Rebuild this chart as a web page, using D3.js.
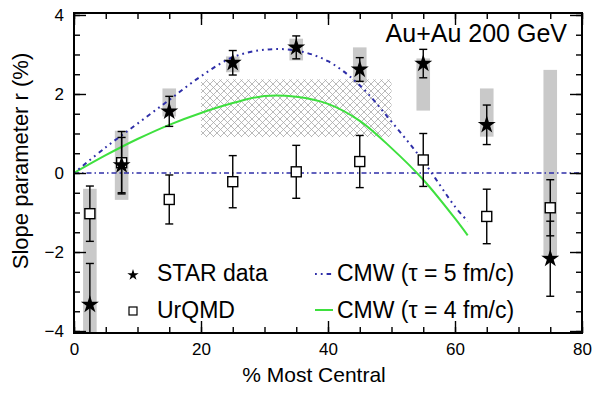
<!DOCTYPE html>
<html>
<head>
<meta charset="utf-8">
<script src="https://cdn.jsdelivr.net/npm/d3@7"></script>
<style>
  body { margin: 0; background: #fff; }
  text { font-family: "Liberation Sans", Arial, Helvetica, sans-serif; fill: #000; }
</style>
</head>
<body>
<script>
const WIDTH = 600
const HEIGHT = 396

// centralité (%) des points
const centrality = [2.5, 7.5, 15, 25, 35, 45, 55, 65, 75]

// STAR data : valeur, erreur stat, boite systematique [bas, haut]
const starValues = [-3.33, 0.2, 1.56, 2.79, 3.18, 2.62, 2.77, 1.22, -2.17]
const starErrors = [1.04, 0.7, 0.38, 0.31, 0.29, 0.3, 0.36, 0.5, 0.95]
const sysLow = [-4.3, -0.68, 1.43, 2.55, 2.85, 2.29, 1.58, 0.92, -2.09]
const sysHigh = [-0.4, 1.07, 2.14, 2.95, 3.4, 3.18, 2.9, 2.14, 2.61]

// UrQMD
const urqmdValues = [-1.03, 0.26, -0.67, -0.22, 0.03, 0.29, 0.33, -1.1, -0.88]
const urqmdErrors = [0.7, 0.79, 0.62, 0.66, 0.67, 0.66, 0.67, 0.69, 0.71]

// courbes CMW
const cmwX = [0, 5, 10, 15, 20, 25, 30, 35, 40, 45, 50, 55, 60, 62]
const cmwTau5 = [0, 0.65, 1.25, 1.85, 2.45, 2.93, 3.12, 3.1, 2.83, 2.22, 1.3, 0.3, -0.85, -1.22]
const cmwTau4 = [0, 0.45, 0.86, 1.22, 1.52, 1.77, 1.95, 1.93, 1.75, 1.32, 0.63, -0.17, -1.15, -1.58]

// bande hachuree
const bandX = [20, 50]
const bandY = [0.91, 2.37]

const xTicks = [0, 20, 40, 60, 80]
const yTicks = [-4, -2, 0, 2, 4]

const x = d3.scaleLinear().domain([0, 80]).range([74, 582])
const y = d3.scaleLinear().domain([-4.05, 4.05]).range([333, 13])

const svg = d3.select("body").append("svg")
    .attr("width", WIDTH)
    .attr("height", HEIGHT)

const defs = svg.append("defs")
defs.append("clipPath").attr("id", "clip")
    .append("rect")
    .attr("x", 74).attr("y", 13)
    .attr("width", 508).attr("height", 320)

const pat = defs.append("pattern")
    .attr("id", "hatch")
    .attr("patternUnits", "userSpaceOnUse")
    .attr("width", 7).attr("height", 7)
pat.append("path")
    .attr("d", "M0,0L7,7M7,0L0,7M-1,6L1,8M6,-1L8,1M-1,1L1,-1M6,8L8,6")
    .attr("stroke", "#a8a8a8")
    .attr("stroke-width", 0.8)

const plot = svg.append("g").attr("clip-path", "url(#clip)")

// boites systematiques
plot.selectAll("rect.sys")
    .data(centrality)
    .enter()
    .append("rect")
    .attr("class", "sys")
    .attr("x", d => x(d - 1.07))
    .attr("width", x(2.14) - x(0))
    .attr("y", (d, i) => y(sysHigh[i]))
    .attr("height", (d, i) => y(sysLow[i]) - y(sysHigh[i]))
    .attr("fill", "#c9c9c9")

// bande hachuree
plot.append("rect")
    .attr("x", x(bandX[0]))
    .attr("width", x(bandX[1]) - x(bandX[0]))
    .attr("y", y(bandY[1]))
    .attr("height", y(bandY[0]) - y(bandY[1]))
    .attr("fill", "url(#hatch)")

// ligne zero
plot.append("line")
    .attr("x1", x(0)).attr("x2", x(80))
    .attr("y1", y(0)).attr("y2", y(0))
    .attr("stroke", "#2e2ea8")
    .attr("stroke-width", 1.3)
    .attr("stroke-dasharray", "5,3,1.5,3")

const line = d3.line()
    .x((d, i) => x(cmwX[i]))
    .y(d => y(d))
    .curve(d3.curveCatmullRom)

plot.append("path")
    .attr("d", line(cmwTau4))
    .attr("fill", "none")
    .attr("stroke", "#3ee03e")
    .attr("stroke-width", 2)

plot.append("path")
    .attr("d", line(cmwTau5))
    .attr("fill", "none")
    .attr("stroke", "#2e2ea8")
    .attr("stroke-width", 2)
    .attr("stroke-dasharray", "1.8,4,1.8,4,4.5,4")

// barres d'erreur
function errorBars(values, errors) {
    const g = plot.append("g").attr("stroke", "#000").attr("stroke-width", 1.4)
    centrality.forEach((c, i) => {
        const top = y(values[i] + errors[i])
        const bot = y(values[i] - errors[i])
        g.append("line").attr("x1", x(c)).attr("x2", x(c)).attr("y1", top).attr("y2", bot)
        g.append("line").attr("x1", x(c) - 4).attr("x2", x(c) + 4).attr("y1", top).attr("y2", top)
        g.append("line").attr("x1", x(c) - 4).attr("x2", x(c) + 4).attr("y1", bot).attr("y2", bot)
    })
}
errorBars(urqmdValues, urqmdErrors)
errorBars(starValues, starErrors)

const star = d3.symbol().type(d3.symbolStar).size(100)

plot.selectAll("rect.urqmd")
    .data(urqmdValues)
    .enter()
    .append("rect")
    .attr("class", "urqmd")
    .attr("x", (d, i) => x(centrality[i]) - 5)
    .attr("y", d => y(d) - 5)
    .attr("width", 10).attr("height", 10)
    .attr("fill", "#fff")
    .attr("stroke", "#000")
    .attr("stroke-width", 1.4)

plot.selectAll("path.star")
    .data(starValues)
    .enter()
    .append("path")
    .attr("class", "star")
    .attr("d", star)
    .attr("transform", (d, i) => `translate(${x(centrality[i])},${y(d)})`)
    .attr("fill", "#000")

// axes : graduations vers l'interieur
const minorX = d3.range(0, 81, 5)
const minorY = d3.range(-4, 4.01, 0.5)
const axes = svg.append("g")

function addAxis(axisFn, tr, ticks, size, labels) {
    const a = axes.append("g")
        .attr("transform", tr)
        .call(axisFn.tickValues(ticks).tickSize(size).tickSizeOuter(0)
            .tickFormat(labels ? d3.format("d") : ""))
    a.select(".domain").remove()
    a.selectAll("line").attr("stroke", "#000").attr("stroke-width", 1.4)
    return a
}

addAxis(d3.axisBottom(x), `translate(0,${y.range()[0]})`, minorX, -6, false)
addAxis(d3.axisTop(x), `translate(0,${y.range()[1]})`, minorX, -6, false)
addAxis(d3.axisLeft(y), `translate(${x.range()[0]},0)`, minorY, -6, false)
addAxis(d3.axisRight(y), `translate(${x.range()[1]},0)`, minorY, -6, false)
addAxis(d3.axisTop(x), `translate(0,${y.range()[1]})`, xTicks, -12, false)
addAxis(d3.axisRight(y), `translate(${x.range()[1]},0)`, yTicks, -12, false)

const xa = addAxis(d3.axisBottom(x), `translate(0,${y.range()[0]})`, xTicks, -12, true)
xa.selectAll("text")
    .attr("y", 22)
    .attr("dy", null)
    .style("font-size", "17px")
    .style("font-family", "Liberation Sans, Arial, sans-serif")

const ya = addAxis(d3.axisLeft(y), `translate(${x.range()[0]},0)`, yTicks, -12, true)
ya.selectAll("text")
    .attr("x", -10)
    .text(d => d < 0 ? "\u2212" + Math.abs(d) : d)
    .style("font-size", "17px")
    .style("font-family", "Liberation Sans, Arial, sans-serif")

// cadre
svg.append("rect")
    .attr("x", x(0)).attr("y", y(4.05))
    .attr("width", x(80) - x(0))
    .attr("height", y(-4.05) - y(4.05))
    .attr("fill", "none")
    .attr("stroke", "#000")
    .attr("stroke-width", 2)

// titres
svg.append("text")
    .attr("x", 314).attr("y", 382)
    .attr("text-anchor", "middle")
    .style("font-size", "21px")
    .text("% Most Central")

svg.append("text")
    .attr("transform", "translate(28,161) rotate(-90)")
    .attr("text-anchor", "middle")
    .style("font-size", "22px")
    .text("Slope parameter r (%)")

svg.append("text")
    .attr("x", 567).attr("y", 42)
    .attr("text-anchor", "end")
    .style("font-size", "25px")
    .text("Au+Au 200 GeV")

// legende
const smallStar = d3.symbol().type(d3.symbolStar).size(40)
const leg = svg.append("g").style("font-size", "23px")
leg.append("path")
    .attr("d", smallStar)
    .attr("transform", "translate(133,275)")
leg.append("text").attr("x", 157).attr("y", 281).text("STAR data")
leg.append("rect")
    .attr("x", 129).attr("y", 307)
    .attr("width", 8).attr("height", 8)
    .attr("fill", "#fff").attr("stroke", "#000").attr("stroke-width", 1.2)
leg.append("text").attr("x", 157).attr("y", 318).text("UrQMD")

leg.append("line")
    .attr("x1", 315).attr("x2", 333).attr("y1", 274).attr("y2", 274)
    .attr("stroke", "#2e2ea8").attr("stroke-width", 2)
    .attr("stroke-dasharray", "1.8,4,1.8,4,4.5,4")
leg.append("text").attr("x", 337).attr("y", 281).text("CMW (\u03c4 = 5 fm/c)")
leg.append("line")
    .attr("x1", 315).attr("x2", 333).attr("y1", 310).attr("y2", 310)
    .attr("stroke", "#3ee03e").attr("stroke-width", 2)
leg.append("text").attr("x", 337).attr("y", 318).text("CMW (\u03c4 = 4 fm/c)")
</script>
</body>
</html>
